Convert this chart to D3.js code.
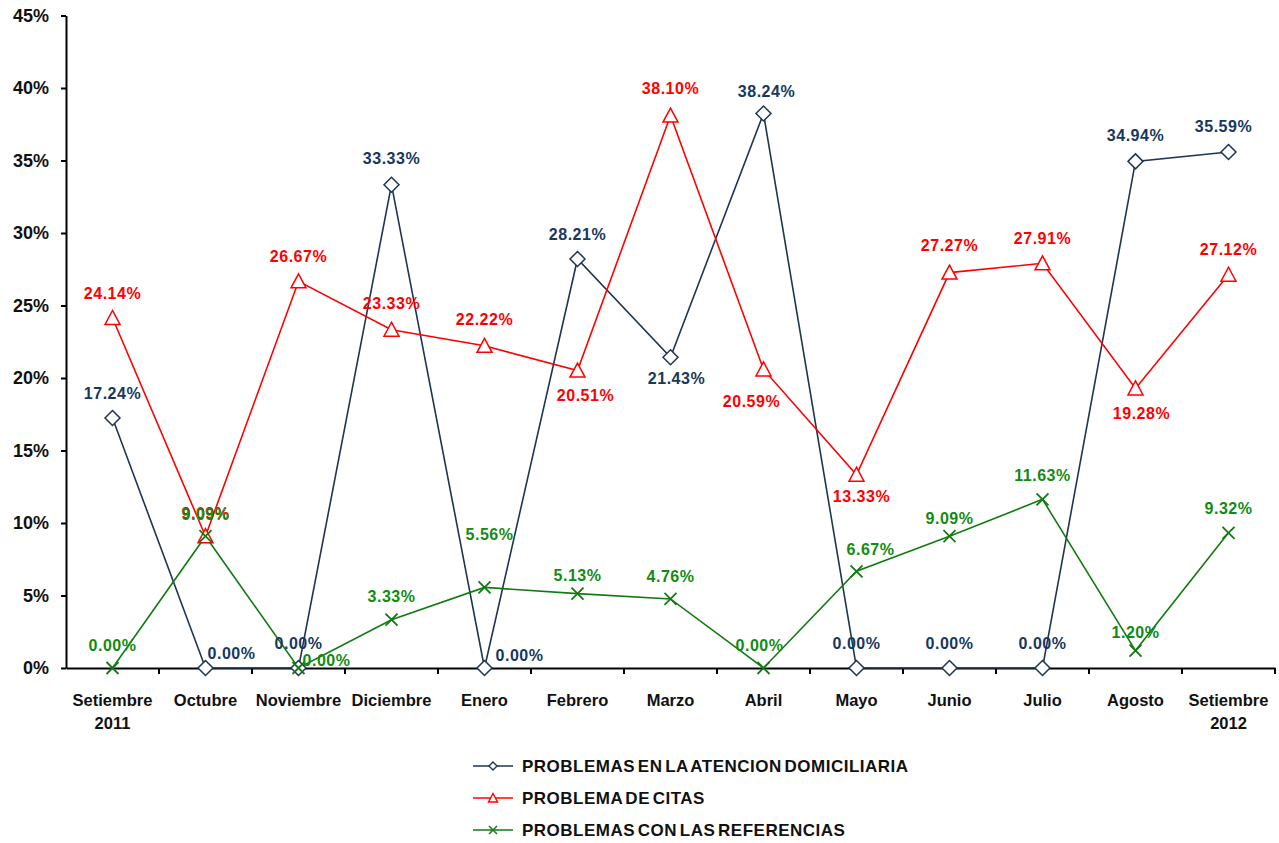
<!DOCTYPE html>
<html><head><meta charset="utf-8">
<script src="https://cdn.jsdelivr.net/npm/d3@7"></script>
<style>
body{margin:0;background:#fff;}
svg{font-family:"Liberation Sans",Arial,sans-serif;}
</style></head>
<body><svg id="c" width="1279" height="843"></svg>
<script>
const categories = ["Setiembre 2011","Octubre","Noviembre","Diciembre","Enero","Febrero","Marzo","Abril","Mayo","Junio","Julio","Agosto","Setiembre 2012"];
const domiciliaria = [17.24,0.00,0.00,33.33,0.00,28.21,21.43,38.24,0.00,0.00,0.00,34.94,35.59];
const citas = [24.14,9.09,26.67,23.33,22.22,20.51,38.10,20.59,13.33,27.27,27.91,19.28,27.12];
const referencias = [0.00,9.09,0.00,3.33,5.56,5.13,4.76,0.00,6.67,9.09,11.63,1.20,9.32];
const yTicks = [0,5,10,15,20,25,30,35,40,45];
const seriesNames = ["PROBLEMAS EN LA ATENCION DOMICILIARIA","PROBLEMA DE CITAS","PROBLEMAS CON LAS REFERENCIAS"];

// label placement (offsets of label centre from point), kept separate from data
const offDom = [[0,-25],[26,-15],[0,-25],[0,-26],[35,-13],[0,-25],[6,21],[3,-22],[0,-25],[0,-25],[0,-25],[0,-26],[-5,-26]];
const offCit = [[0,-25],[0,-23],[0,-25],[0,-26],[0,-26],[8,25],[0,-27],[-12,32],[5,22],[0,-27],[0,-25],[6,25],[0,-25]];
const offRef = [[0,-23],[0,-22],[28,-8],[0,-23],[5,-53],[0,-18],[0,-23],[-4,-23],[14,-22],[0,-18],[0,-24],[0,-18],[0,-24]];

const svg = d3.select("#c");
const x = d3.scaleBand().domain(categories).range([66,1275]);
const y = d3.scaleLinear().domain([0,45]).range([668,15.5]);

const series = [
  {name:seriesNames[0], values:domiciliaria, color:"#1F3552", label:"#17375E", marker:"diamond", off:offDom},
  {name:seriesNames[1], values:citas, color:"#FF0000", label:"#FF0000", marker:"triangle", off:offCit},
  {name:seriesNames[2], values:referencias, color:"#127A12", label:"#138A13", marker:"x", off:offRef}
];

// Y axis
const yAxis = svg.append("g").attr("transform","translate(66,0)")
  .call(d3.axisLeft(y).tickValues(yTicks).tickFormat(d=>d+"%").tickSize(5).tickPadding(12).tickSizeOuter(0));
yAxis.select(".domain").attr("stroke","#000").attr("stroke-width",2);
yAxis.selectAll(".tick line").attr("stroke","#000").attr("stroke-width",2);
yAxis.selectAll(".tick text").attr("font-size",18).attr("font-weight","bold").attr("fill","#111")
  .attr("font-family","'Liberation Sans',Arial,sans-serif");

// X axis
const xAxis = svg.append("g").attr("transform","translate(0,668)")
  .call(d3.axisBottom(x).tickSize(0).tickSizeOuter(0).tickPadding(0));
xAxis.select(".domain").attr("stroke","#000").attr("stroke-width",2);
xAxis.selectAll(".tick text").remove();
const bounds = categories.map(c=>x(c)+x.bandwidth());
xAxis.selectAll("line.bt").data(bounds).enter().append("line").attr("class","bt")
  .attr("x1",d=>d).attr("x2",d=>d).attr("y1",0).attr("y2",6).attr("stroke","#000").attr("stroke-width",2);
const xl = xAxis.selectAll("text.xl").data(categories).enter().append("text").attr("class","xl")
  .attr("x",d=>x(d)+x.bandwidth()/2).attr("y",38)
  .attr("text-anchor","middle").attr("font-size",16.5).attr("font-weight","bold").attr("fill","#111")
  .attr("font-family","'Liberation Sans',Arial,sans-serif");
xl.each(function(d){
  const parts = d.split(" ");
  const t = d3.select(this);
  parts.forEach((p,i)=>t.append("tspan").attr("x",x(d)+x.bandwidth()/2).attr("dy",i?23:0).text(p));
});

function drawMarker(g, type, color){
  if(type==="diamond"){
    g.append("path").attr("d","M0,-7.5L7.5,0L0,7.5L-7.5,0Z").attr("fill","#fff").attr("stroke",color).attr("stroke-width",1.5);
  } else if(type==="triangle"){
    g.append("path").attr("d","M0,-7.5L7.5,6.5L-7.5,6.5Z").attr("fill","#fff").attr("stroke",color).attr("stroke-width",1.5);
  } else {
    g.append("path").attr("d","M-6,-6L6,6M-6,6L6,-6").attr("fill","none").attr("stroke",color).attr("stroke-width",1.8);
  }
}

const line = d3.line().x((d,i)=>x(categories[i])+x.bandwidth()/2).y(d=>y(d));
series.forEach(s=>{
  svg.append("path").datum(s.values).attr("d",line).attr("fill","none").attr("stroke",s.color).attr("stroke-width",1.6);
});
series.forEach(s=>{
  s.values.forEach((v,i)=>{
    const g = svg.append("g").attr("transform",`translate(${x(categories[i])+x.bandwidth()/2},${y(v)})`);
    drawMarker(g,s.marker,s.color);
  });
});
series.forEach(s=>{
  s.values.forEach((v,i)=>{
    svg.append("text")
      .attr("x",x(categories[i])+x.bandwidth()/2+s.off[i][0])
      .attr("y",y(v)+s.off[i][1])
      .attr("dy","0.35em")
      .attr("text-anchor","middle").attr("font-size",16).attr("font-weight","bold")
      .attr("letter-spacing","0.5px")
      .attr("fill",s.label).text(v.toFixed(2)+"%");
  });
});

// Legend
const lg = svg.append("g");
series.forEach((s,i)=>{
  const yy = 766 + i*32;
  lg.append("line").attr("x1",473).attr("x2",513).attr("y1",yy).attr("y2",yy).attr("stroke",s.color).attr("stroke-width",1.6);
  const g = lg.append("g").attr("transform",`translate(493,${yy})`);
  if(s.marker==="diamond") g.append("path").attr("d","M0,-4L4,0L0,4L-4,0Z").attr("fill","#fff").attr("stroke",s.color).attr("stroke-width",1.4);
  else if(s.marker==="triangle") g.append("path").attr("d","M0,-4.5L4.5,4L-4.5,4Z").attr("fill","#fff").attr("stroke",s.color).attr("stroke-width",1.4);
  else g.append("path").attr("d","M-4,-4L4,4M-4,4L4,-4").attr("stroke",s.color).attr("stroke-width",1.5);
  lg.append("text").attr("x",522).attr("y",yy).attr("dy","0.36em")
    .attr("font-size",17).attr("font-weight","bold").attr("fill","#111")
    .attr("letter-spacing","0.5px").attr("word-spacing","-2.5px")
    .text(s.name);
});
</script></body></html>
